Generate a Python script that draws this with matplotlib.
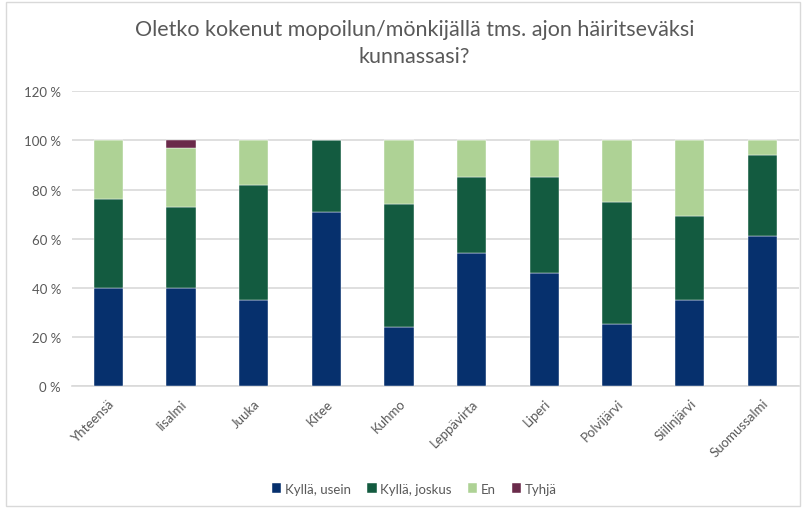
import matplotlib
matplotlib.use("Agg")
import matplotlib.pyplot as plt
from matplotlib.patches import Rectangle
import numpy as np

categories = ["Yhteensä", "Iisalmi", "Juuka", "Kitee", "Kuhmo", "Leppävirta",
              "Liperi", "Polvijärvi", "Siilinjärvi", "Suomussalmi"]
kylla_usein = [40, 40, 35, 71, 24, 54, 46, 25, 35, 61]
kylla_joskus = [36, 33, 47, 29, 50, 31, 39, 50, 34, 33]
en = [24, 24, 18, 0, 26, 15, 15, 25, 31, 6]
tyhja = [0, 3, 0, 0, 0, 0, 0, 0, 0, 0]
series_names = ["Kyllä, usein", "Kyllä, joskus", "En", "Tyhjä"]
colors = ["#06306D", "#135B40", "#AED295", "#6A2A4A"]
yticks = [0, 20, 40, 60, 80, 100, 120]

plt.rcParams['font.family'] = ['Lato', 'DejaVu Sans']
text_color = "#595959"

fig = plt.figure(figsize=(8.02, 5.10), dpi=100)
ax = fig.add_axes([0.0898, 0.2418, 0.906, 0.577])

x = np.arange(len(categories))
bottom = np.zeros(len(categories))
for vals, name, c in zip([kylla_usein, kylla_joskus, en, tyhja], series_names, colors):
    v = np.array(vals, dtype=float)
    ax.bar(x, v, 0.4, bottom=bottom, color=c, label=name, zorder=3,
           edgecolor="white", linewidth=0.3)
    bottom += v

ax.set_ylim(0, 120)
ax.set_xlim(-0.5, len(categories) - 0.5)
ax.set_yticks(yticks)
ax.set_yticklabels([f"{t} %" for t in yticks], color=text_color, fontsize=9.5)
ax.set_xticks(x)
ax.set_xticklabels(categories, rotation=45, ha="right", rotation_mode="anchor",
                   color=text_color, fontsize=9.5)
ax.tick_params(axis="both", length=0, pad=8)
ax.tick_params(axis="x", pad=8)
ax.grid(axis="y", color="#D9D9D9", linewidth=1.2, zorder=0)
for s in ["top", "right", "left"]:
    ax.spines[s].set_visible(False)
ax.spines["bottom"].set_color("#D9D9D9")
ax.spines["bottom"].set_linewidth(1.2)

fig.text(0.517, 0.915, "Oletko kokenut mopoilun/mönkijällä tms. ajon häiritseväksi\nkunnassasi?",
         ha="center", va="center", fontsize=15.5, color=text_color, linespacing=1.4)

handles, labels = ax.get_legend_handles_labels()
fig.legend(handles, labels, loc="center", bbox_to_anchor=(0.517, 0.04), ncol=4,
           frameon=False, fontsize=9.5, labelcolor=text_color, handlelength=0.7,
           handleheight=0.7, handletextpad=0.3, columnspacing=1.2)

fig.patches.append(Rectangle((0.008, 0.005), 0.99, 0.99, transform=fig.transFigure,
                             fill=False, edgecolor="#D9D9D9", linewidth=1))

fig.savefig("out.png", dpi=100)
